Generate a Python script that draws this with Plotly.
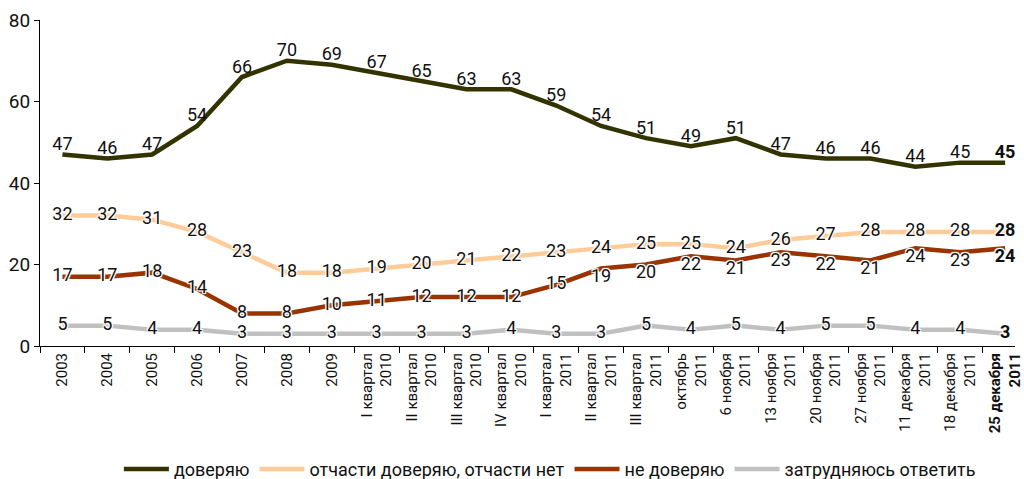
import plotly.graph_objects as go

# Периоды (подписи оси X)
periods = [
    '2003', '2004', '2005', '2006', '2007', '2008', '2009',
    'I квартал<br>2010', 'II квартал<br>2010', 'III квартал<br>2010', 'IV квартал<br>2010',
    'I квартал<br>2011', 'II квартал<br>2011', 'III квартал<br>2011',
    'октябрь<br>2011', '6 ноября<br>2011', '13 ноября<br>2011', '20 ноября<br>2011',
    '27 ноября<br>2011', '11 декабря<br>2011', '18 декабря<br>2011', '25 декабря<br>2011',
]

trust = [47, 46, 47, 54, 66, 70, 69, 67, 65, 63, 63, 59, 54, 51, 49, 51, 47, 46, 46, 44, 45, 45]
partly = [32, 32, 31, 28, 23, 18, 18, 19, 20, 21, 22, 23, 24, 25, 25, 24, 26, 27, 28, 28, 28, 28]
distrust = [17, 17, 18, 14, 8, 8, 10, 11, 12, 12, 12, 15, 19, 20, 22, 21, 23, 22, 21, 24, 23, 24]
unsure = [5, 5, 4, 4, 3, 3, 3, 3, 3, 3, 4, 3, 3, 5, 4, 5, 4, 5, 5, 4, 4, 3]

names = ['доверяю', 'отчасти доверяю, отчасти нет', 'не доверяю', 'затрудняюсь ответить']
colors = ['#333300', '#FFCC99', '#993300', '#C0C0C0']

FONT = 'Roboto, Liberation Sans, sans-serif'
HALO = '-1px -1px 0 #fff, 1px -1px 0 #fff, -1px 1px 0 #fff, 1px 1px 0 #fff, 0 0 3px #fff'


def labels(values):
    # последняя точка выделена жирным
    return [str(v) for v in values[:-1]] + ['<b>%s</b>' % values[-1]]


# где стоят подписи: у "не доверяю" с 2011 года они под линией
positions = [
    'top center',
    'middle center',
    ['middle center'] * 12 + ['bottom center'] * 10,
    'middle center',
]

fig = go.Figure()
for i, (vals, name, color) in enumerate(zip([trust, partly, distrust, unsure], names, colors)):
    fig.add_trace(go.Scatter(
        x=periods, y=vals, name=name,
        mode='lines+text',
        line=dict(color=color, width=4.5),
        text=labels(vals),
        textposition=positions[i],
        textfont=dict(family=FONT, size=18, color='#111111',
                      shadow='none' if i == 0 else HALO),
        cliponaxis=False,
    ))

ticktext = periods[:-1] + ['<b>%s</b>' % periods[-1]]

fig.update_layout(
    width=1024, height=479,
    plot_bgcolor='white', paper_bgcolor='white',
    font=dict(family=FONT, color='#111111'),
    margin=dict(l=40, r=0, t=20, b=133),
    showlegend=True,
    legend=dict(
        orientation='h', xref='container', yref='container',
        x=0.537, xanchor='center', y=0.02, yanchor='middle',
        font=dict(size=18), itemwidth=45, tracegroupgap=0,
    ),
    xaxis=dict(
        type='category', range=[-0.5, 21.22],
        tickvals=periods, ticktext=ticktext,
        tickson='boundaries', ticks='outside', ticklen=6, tickcolor='black',
        tickangle=-90, tickfont=dict(size=15),
        showline=True, linecolor='black', linewidth=1, showgrid=False,
    ),
    yaxis=dict(
        range=[0, 80], tickvals=[0, 20, 40, 60, 80],
        ticks='outside', ticklen=5, tickcolor='black',
        tickfont=dict(size=19),
        showline=True, linecolor='black', linewidth=1, showgrid=False, zeroline=False,
    ),
)

# убираем отступ body, чтобы график встал в левый верхний угол
fig.write_html('out.html', config={'displayModeBar': False},
               post_script="document.body.style.margin='0';")
